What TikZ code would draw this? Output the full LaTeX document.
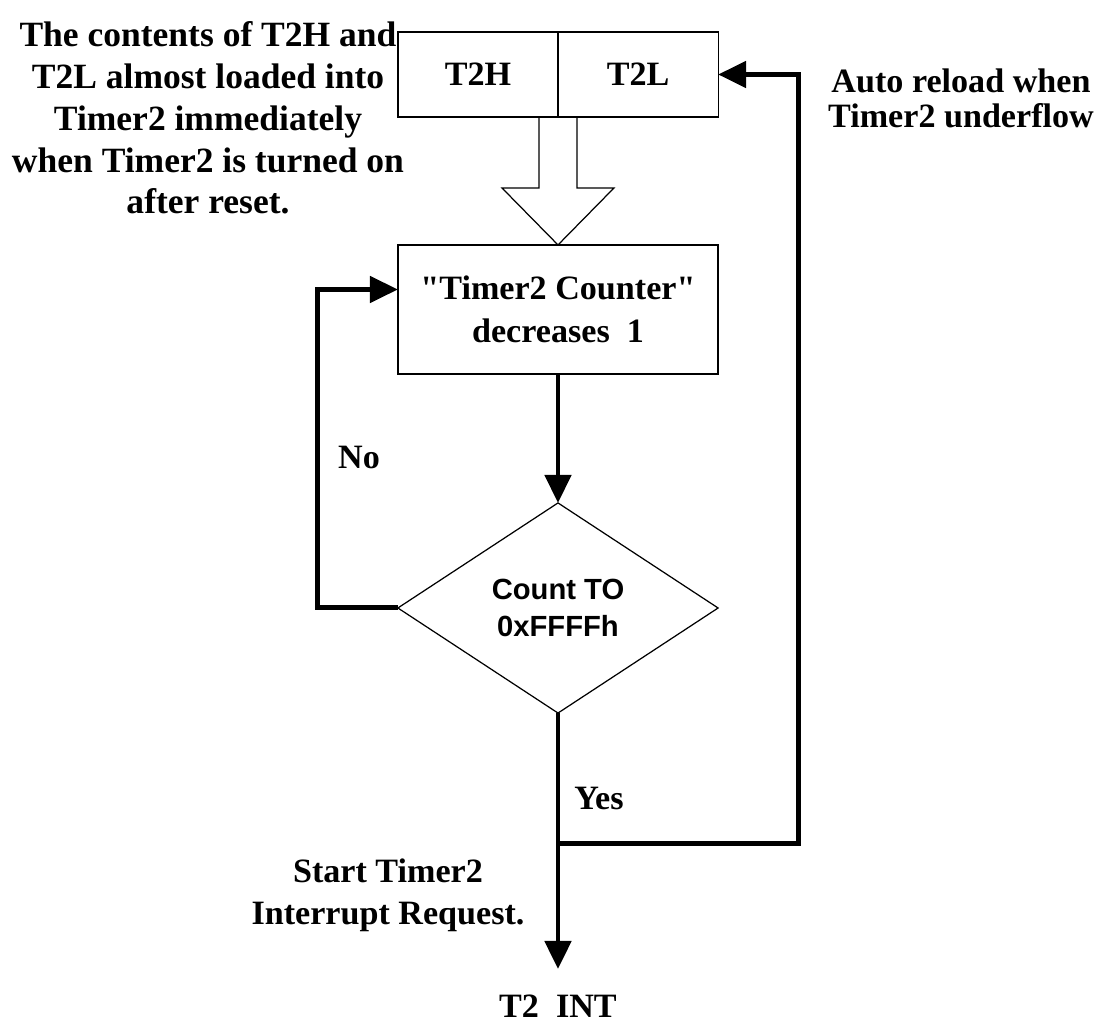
\documentclass[tikz,border=0pt]{standalone}
\usepackage{fontspec}
\setmainfont{Liberation Serif}[Ligatures=TeXOff]
\newfontfamily\diafont{Liberation Sans}
\usetikzlibrary{calc, positioning, shapes.geometric, arrows.meta}

\tikzset{
  thinline/.style={line width=0.35pt},
  regbox/.style={draw, thinline, minimum width=1.6cm, minimum height=0.85cm,
    inner sep=0pt, outer sep=0pt, font=\bfseries\fontsize{9.7}{12}\selectfont},
  cntbox/.style={regbox, minimum width=3.2cm, minimum height=1.29cm, align=center,
    font=\bfseries\fontsize{9.7}{12.2}\selectfont},
  decision/.style={draw, thinline, diamond, minimum width=3.2cm, minimum height=2.1cm,
    inner sep=0pt, outer sep=0pt, align=center, font=\diafont\bfseries\fontsize{8.3}{10.5}\selectfont},
  flow/.style={line width=1.42pt, -{Triangle[length=0.28cm, width=0.26cm]}},
  lbl/.style={inner sep=0pt, font=\bfseries\fontsize{9.7}{12}\selectfont}
}

\begin{document}
\begin{tikzpicture}[x=0.01cm, y=-0.01cm]
  \useasboundingbox (0,0) rectangle (1105,1028);

  \node[regbox] (t2h) at (478,74.5) {T2H};%
  \node[regbox, right=0pt of t2h] (t2l) {T2L};%
  \node[cntbox] (cnt) at (558,309.5) {"Timer2 Counter"\\decreases~~1};%
  \node[decision] (dec) at (558,608) {Count TO\\0xFFFFh};%

  % hollow load arrow
  \draw[thinline] ($(t2h.south east)+(-19,0)$) -- ++(0,71) -- ++(-37,0) -- (cnt.north)
    -- ++(56,-57) -- ++(-37,0) -- ($(t2h.south east)+(19,0)$);

  \coordinate (noin) at ($(cnt.west)+(0,-20)$);

  \node[lbl] (no) at (359,458) {No};%
  \node[lbl] (yes) at (599,799) {Yes};%
  \node[lbl] (int) at (558,1006) {T2~~INT};%
  \node[lbl, align=center] (start) at (388,895) {Start Timer2\\Interrupt Request.};%
  \node[lbl, align=center, font=\bfseries\fontsize{10.1}{11.9}\selectfont] (note) at (208,118)
    {The contents of T2H and\\T2L almost loaded into\\Timer2 immediately\\when Timer2 is turned on\\after reset.};%
  \node[lbl, align=center, font=\bfseries\fontsize{9.7}{10}\selectfont] (reload) at (961,98)
    {Auto reload when\\Timer2 underflow};%

  \draw[flow] (cnt.south) -- (dec.north);
  \draw[flow] (dec.west) -- ++(-80,0) |- (noin);
  \draw[flow, shorten >=0.25cm] (dec.south) -- (int.north);
  \draw[flow] ($(dec.south)+(0,130)$) -| ($(t2l.east)+(80,0)$) -- (t2l.east);
\end{tikzpicture}
\end{document}
